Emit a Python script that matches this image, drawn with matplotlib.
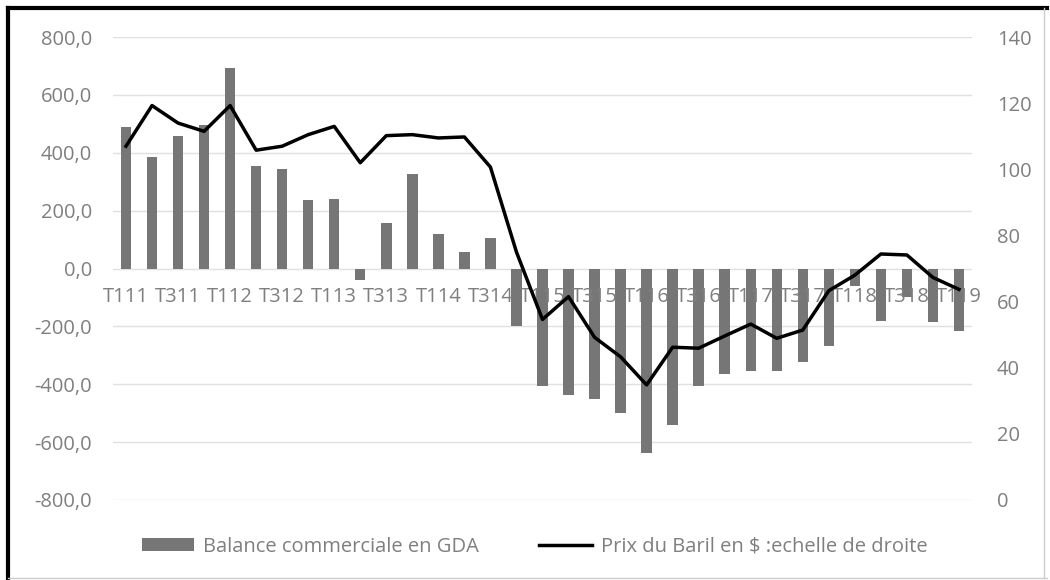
import matplotlib.pyplot as plt
import numpy as np

# Trimestres T1 2011 -> T1 2019
quarters = [f"T{q}{y}" for y in range(11, 20) for q in range(1, 5)][:33]

# Balance commerciale (GDA), échelle de gauche
balance = [490, 385, 457, 497, 692, 355, 343, 237, 240, -40, 158, 327,
           118, 58, 106, -200, -407, -436, -450, -501, -639, -541, -407, -364,
           -355, -355, -322, -267, -60, -180, -100, -186, -217]

# Prix du baril en $, échelle de droite
price = [107, 119.3, 114, 111.5, 119.3, 105.8, 107, 110.5, 113, 102, 110.2, 110.5,
         109.5, 109.8, 100.7, 75, 54.6, 61.5, 49.2, 43.3, 34.8, 46.2, 45.9, 49.6,
         53.2, 48.9, 51.4, 63.3, 68, 74.4, 74.1, 67.3, 63.7]

left_ticks = list(range(-800, 801, 200))
right_ticks = list(range(0, 141, 20))

plt.rcParams['font.family'] = ['Open Sans', 'DejaVu Sans']
TXT = "#7f7f7f"
GRID = "#e0e0e0"
FS = 14.5

fig = plt.figure(figsize=(10.5, 5.8), dpi=100)
ax = fig.add_axes([0.1076, 0.138, 0.8181, 0.798])
ax2 = ax.twinx()

x = np.arange(len(quarters))
bars = ax.bar(x, balance, width=0.4, color="#767676", zorder=2,
              label="Balance commerciale en GDA")
line, = ax2.plot(x, price, color="black", lw=2.5, zorder=3,
                 label="Prix du Baril en $ :echelle de droite")

ax.set_xlim(-0.5, len(quarters) - 0.5)
ax.set_ylim(-800, 800)
ax2.set_ylim(0, 140)
ax.set_yticks(left_ticks)
ax.set_yticklabels([f"{v:.1f}".replace(".", ",") for v in left_ticks])
ax2.set_yticks(right_ticks)
ax2.set_yticklabels([str(v) for v in right_ticks])
ax.grid(axis="y", color=GRID, lw=1, zorder=0)
ax.set_axisbelow(True)

for a in (ax, ax2):
    for s in a.spines.values():
        s.set_visible(False)
ax.tick_params(axis="y", length=0, pad=15, labelsize=FS, labelcolor=TXT)
ax2.tick_params(axis="y", length=0, pad=18, labelsize=FS, labelcolor=TXT)

# étiquettes de l'axe des x posées sous la ligne zéro, par-dessus les barres
ax.set_xticks([])
for i in range(0, len(quarters), 2):
    ax.text(i, -100, quarters[i], ha="center", va="center", fontsize=FS,
            color=TXT, zorder=3)

fig.legend([bars, line], [bars.get_label(), line.get_label()],
           loc="center", bbox_to_anchor=(0.509, 0.057), ncol=2, frameon=False,
           fontsize=FS, labelcolor=TXT, handlelength=2.6, handleheight=0.6,
           handletextpad=0.45, columnspacing=3.0)

# cadre autour de la figure
fig.add_artist(plt.Line2D([0.008, 0.008], [0.003, 0.986], color="black", lw=3))
fig.add_artist(plt.Line2D([0.008, 0.997], [0.986, 0.986], color="black", lw=3))
fig.add_artist(plt.Line2D([0.994, 0.994], [0.003, 0.986], color="#cccccc", lw=1))
fig.add_artist(plt.Line2D([0.008, 0.997], [0.004, 0.004], color="#cccccc", lw=1))

fig.savefig("out.png", dpi=100)
